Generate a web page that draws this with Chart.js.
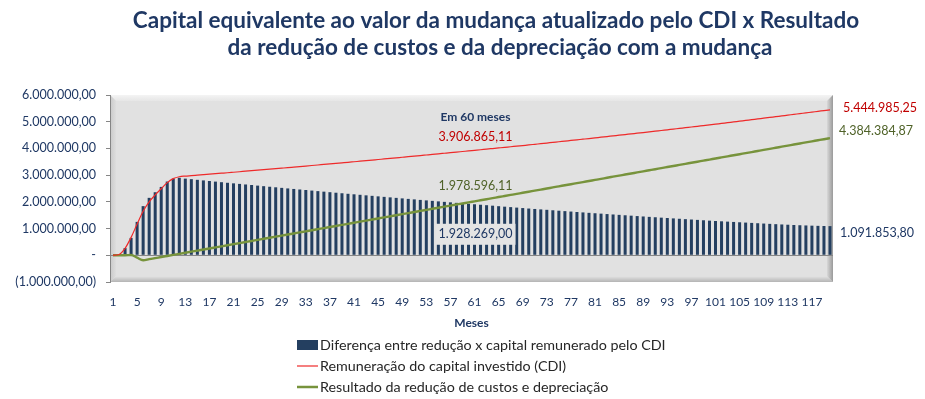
<!DOCTYPE html>
<html lang="pt-BR">
<head>
<meta charset="utf-8">
<title>Capital equivalente x Resultado</title>
<script src="https://cdn.jsdelivr.net/npm/chart.js@4.4.1/dist/chart.umd.min.js"></script>
<style>
  html, body { margin: 0; padding: 0; background: #fff; }
  #wrap { width: 925px; height: 399px; }
</style>
</head>
<body>
<div id="wrap"><canvas id="grafico" width="925" height="399"></canvas></div>
<script>
// Meses (eixo X)
const meses = [
    1, 2, 3, 4, 5, 6, 7, 8, 9, 10, 11, 12, 13, 14, 15, 16, 17, 18, 19, 20,
    21, 22, 23, 24, 25, 26, 27, 28, 29, 30, 31, 32, 33, 34, 35, 36, 37, 38, 39, 40,
    41, 42, 43, 44, 45, 46, 47, 48, 49, 50, 51, 52, 53, 54, 55, 56, 57, 58, 59, 60,
    61, 62, 63, 64, 65, 66, 67, 68, 69, 70, 71, 72, 73, 74, 75, 76, 77, 78, 79, 80,
    81, 82, 83, 84, 85, 86, 87, 88, 89, 90, 91, 92, 93, 94, 95, 96, 97, 98, 99, 100,
    101, 102, 103, 104, 105, 106, 107, 108, 109, 110, 111, 112, 113, 114, 115, 116, 117, 118, 119, 120
];

// Diferença entre redução x capital remunerado pelo CDI (barras)
const diferenca = [
    0, 30000, 270000, 650000, 1250000, 1840000, 2150000, 2360000, 2560000, 2760000,
    2870000, 2900000, 2870000, 2850000, 2825000, 2803000, 2780000, 2758000, 2736000, 2714000,
    2693000, 2672000, 2651000, 2630000, 2608000, 2587000, 2566000, 2545000, 2524000, 2503000,
    2483000, 2463000, 2443000, 2422000, 2402000, 2382000, 2362000, 2342000, 2322000, 2302000,
    2283000, 2264000, 2244000, 2225000, 2206000, 2187000, 2168000, 2149000, 2130000, 2111000,
    2093000, 2073000, 2055000, 2037000, 2018000, 2000000, 1982000, 1963000, 1945000, 1928269,
    1910000, 1892000, 1875000, 1857000, 1838000, 1820000, 1803000, 1785000, 1768000, 1750000,
    1734000, 1718000, 1702000, 1685000, 1669000, 1653000, 1637000, 1621000, 1605000, 1589000,
    1574000, 1559000, 1543000, 1528000, 1513000, 1498000, 1483000, 1468000, 1453000, 1438000,
    1424000, 1409000, 1395000, 1381000, 1367000, 1353000, 1339000, 1325000, 1311000, 1297000,
    1284000, 1272000, 1260000, 1248000, 1236000, 1224000, 1212000, 1200000, 1188000, 1176000,
    1165000, 1154000, 1144000, 1134000, 1125000, 1117000, 1109000, 1102000, 1096000, 1091854
];

// Remuneração do capital investido (CDI)
const remuneracaoCDI = [
    0, 30000, 260000, 670000, 1170000, 1650000, 2000000, 2260000, 2490000, 2720000,
    2870000, 2940000, 2965000, 2982000, 3000000, 3018000, 3036000, 3054000, 3072000, 3090000,
    3109000, 3128000, 3147000, 3166000, 3185000, 3204000, 3223000, 3242000, 3261000, 3280000,
    3300000, 3320000, 3340000, 3360000, 3380000, 3400000, 3420000, 3440000, 3460000, 3480000,
    3501000, 3522000, 3543000, 3564000, 3585000, 3606000, 3627000, 3648000, 3669000, 3690000,
    3712000, 3733000, 3755000, 3777000, 3798000, 3820000, 3842000, 3863000, 3885000, 3906865,
    3929000, 3951000, 3974000, 3996000, 4018000, 4040000, 4063000, 4085000, 4108000, 4130000,
    4154000, 4178000, 4202000, 4226000, 4250000, 4274000, 4298000, 4322000, 4346000, 4370000,
    4395000, 4420000, 4445000, 4470000, 4495000, 4520000, 4545000, 4570000, 4595000, 4620000,
    4646000, 4672000, 4698000, 4724000, 4750000, 4776000, 4802000, 4828000, 4854000, 4880000,
    4908000, 4936000, 4964000, 4992000, 5020000, 5048000, 5076000, 5104000, 5132000, 5160000,
    5189000, 5217000, 5246000, 5274000, 5303000, 5331000, 5360000, 5388000, 5417000, 5444985
];

// Resultado da redução de custos e depreciação
const resultadoReducao = [
    0, 0, 0, 10000, -90000, -186000, -146000, -106000, -65000, -25000,
    15000, 55000, 95000, 135000, 175000, 215000, 256000, 296000, 336000, 376000,
    416000, 456000, 496000, 536000, 577000, 617000, 657000, 697000, 737000, 777000,
    817000, 857000, 897000, 938000, 978000, 1018000, 1058000, 1098000, 1138000, 1178000,
    1218000, 1258000, 1299000, 1339000, 1379000, 1419000, 1459000, 1499000, 1539000, 1579000,
    1619000, 1660000, 1700000, 1740000, 1780000, 1820000, 1860000, 1900000, 1940000, 1978596,
    2019000, 2059000, 2099000, 2139000, 2180000, 2220000, 2260000, 2300000, 2340000, 2380000,
    2420000, 2460000, 2500000, 2541000, 2581000, 2621000, 2661000, 2701000, 2741000, 2781000,
    2821000, 2861000, 2902000, 2942000, 2982000, 3022000, 3062000, 3102000, 3142000, 3182000,
    3222000, 3263000, 3303000, 3343000, 3383000, 3423000, 3463000, 3503000, 3543000, 3583000,
    3624000, 3664000, 3704000, 3744000, 3784000, 3824000, 3864000, 3904000, 3944000, 3985000,
    4025000, 4065000, 4105000, 4145000, 4185000, 4225000, 4265000, 4305000, 4345000, 4384385
];

// Rótulos de dados como aparecem no gráfico
const rotulo60 = ['Em 60 meses', '3.906.865,11', '1.978.596,11', '1.928.269,00'];
const rotuloFinal = ['5.444.985,25', '4.384.384,87', '1.091.853,80'];

const titulo = [
    'Capital equivalente ao valor da mudança atualizado pelo CDI x Resultado',
    'da redução de custos e da depreciação com a mudança'
];

const legendas = [
    'Diferença entre redução x capital remunerado pelo CDI',
    'Remuneração do capital investido (CDI)',
    'Resultado da redução de custos e depreciação'
];

const CORES = {
    barra: '#243F60',
    cdi: '#EE2A2A',
    reducao: '#77933C',
    azul: '#1F3864',
    vermelho: '#C00000',
    oliva: '#4F6228',
    eixo: '#868686'
};

const FONTE = "Lato, 'Open Sans', sans-serif";

/**
 * Formata número no padrão contábil brasileiro
 */
function formatarBR(v) {
    if (v === 0) return '-';
    const abs = Math.abs(v).toFixed(2);
    const [inteiro, dec] = abs.split('.');
    const comPontos = inteiro.replace(/\B(?=(\d{3})+(?!\d))/g, '.');
    const texto = comPontos + ',' + dec;
    return v < 0 ? '(' + texto + ')' : texto;
}

function poligono(ctx, pts, cor) {
    ctx.beginPath();
    ctx.moveTo(pts[0][0], pts[0][1]);
    for (let i = 1; i < pts.length; i++) ctx.lineTo(pts[i][0], pts[i][1]);
    ctx.closePath();
    ctx.fillStyle = cor;
    ctx.fill();
}

// fundo da área de plotagem com chanfro (estilo Excel)
const fundoPlot = {
    id: 'fundoPlot',
    beforeDraw(chart) {
        const { ctx, chartArea: a } = chart;
        const b = 6;
        ctx.save();
        ctx.fillStyle = '#E1E1E1';
        ctx.fillRect(a.left, a.top, a.width, a.height);

        let g = ctx.createLinearGradient(0, a.top, 0, a.top + b);
        g.addColorStop(0, '#F4F4F4');
        g.addColorStop(1, '#E6E6E6');
        poligono(ctx, [[a.left, a.top], [a.right, a.top], [a.right - b, a.top + b], [a.left + b, a.top + b]], g);

        g = ctx.createLinearGradient(a.left, 0, a.left + b, 0);
        g.addColorStop(0, '#C9C9C9');
        g.addColorStop(1, '#DEDEDE');
        poligono(ctx, [[a.left, a.top], [a.left + b, a.top + b], [a.left + b, a.bottom - b], [a.left, a.bottom]], g);

        g = ctx.createLinearGradient(0, a.bottom - b, 0, a.bottom);
        g.addColorStop(0, '#E4E4E4');
        g.addColorStop(1, '#B4B4B4');
        poligono(ctx, [[a.left, a.bottom], [a.left + b, a.bottom - b], [a.right - b, a.bottom - b], [a.right, a.bottom]], g);

        g = ctx.createLinearGradient(a.right - b, 0, a.right, 0);
        g.addColorStop(0, '#D8D8D8');
        g.addColorStop(1, '#9A9A9A');
        poligono(ctx, [[a.right, a.top], [a.right, a.bottom], [a.right - b, a.bottom - b], [a.right - b, a.top + b]], g);
        ctx.restore();
    }
};

// título, rótulos de dados e legenda
const textos = {
    id: 'textos',
    afterDatasetsDraw(chart) {
        const { ctx, scales: { x, y }, chartArea } = chart;
        const i60 = 59;
        const iFim = meses.length - 1;
        const x60 = x.getPixelForValue(i60) + 7;

        ctx.save();
        ctx.textAlign = 'center';
        ctx.textBaseline = 'middle';

        // caixa do rótulo da barra
        const yBarra = y.getPixelForValue(diferenca[i60]) + 30;
        ctx.fillStyle = '#E4E4E4';
        ctx.fillRect(x60 - 40, yBarra - 10, 80, 21);

        ctx.font = 'bold 12px ' + FONTE;
        ctx.fillStyle = CORES.azul;
        ctx.fillText(rotulo60[0], x60, y.getPixelForValue(remuneracaoCDI[i60]) - 34);

        ctx.font = '12.5px ' + FONTE;
        ctx.fillStyle = CORES.vermelho;
        ctx.fillText(rotulo60[1], x60, y.getPixelForValue(remuneracaoCDI[i60]) - 14);
        ctx.fillStyle = CORES.oliva;
        ctx.fillText(rotulo60[2], x60, y.getPixelForValue(resultadoReducao[i60]) - 16);
        ctx.fillStyle = CORES.azul;
        ctx.fillText(rotulo60[3], x60, yBarra);

        // rótulos do último mês, fora da área
        ctx.textAlign = 'left';
        const xFim = chartArea.right + 8;
        ctx.fillStyle = CORES.vermelho;
        ctx.fillText(rotuloFinal[0], xFim + 2, y.getPixelForValue(remuneracaoCDI[iFim]) - 2);
        ctx.fillStyle = CORES.oliva;
        ctx.fillText(rotuloFinal[1], xFim - 2, y.getPixelForValue(resultadoReducao[iFim]) - 7);
        ctx.fillStyle = CORES.azul;
        ctx.fillText(rotuloFinal[2], xFim - 1, y.getPixelForValue(diferenca[iFim]) + 7);
        ctx.restore();
    },
    afterDraw(chart) {
        const { ctx } = chart;
        ctx.save();
        // título
        ctx.textAlign = 'center';
        ctx.textBaseline = 'middle';
        ctx.fillStyle = CORES.azul;
        ctx.font = 'bold 22.5px ' + FONTE;
        ctx.fillText(titulo[0], 496, 21);
        ctx.fillText(titulo[1], 500, 48);

        // legenda vertical
        const lx = 297;
        const ly = [345, 366, 387];
        ctx.fillStyle = CORES.barra;
        ctx.fillRect(lx, ly[0] - 5, 21, 10);
        ctx.strokeStyle = CORES.cdi;
        ctx.lineWidth = 1.2;
        ctx.beginPath();
        ctx.moveTo(lx, ly[1]);
        ctx.lineTo(lx + 21, ly[1]);
        ctx.stroke();
        ctx.strokeStyle = CORES.reducao;
        ctx.lineWidth = 2.5;
        ctx.beginPath();
        ctx.moveTo(lx, ly[2]);
        ctx.lineTo(lx + 21, ly[2]);
        ctx.stroke();

        ctx.textAlign = 'left';
        ctx.fillStyle = '#262626';
        ctx.font = '14.3px ' + FONTE;
        legendas.forEach((t, i) => ctx.fillText(t, lx + 23, ly[i]));
        ctx.restore();
    }
};

const ctx = document.getElementById('grafico').getContext('2d');

const chart = new Chart(ctx, {
    type: 'bar',
    data: {
        labels: meses,
        datasets: [
            {
                type: 'bar',
                label: legendas[0],
                data: diferenca,
                backgroundColor: CORES.barra,
                barPercentage: 0.5,
                categoryPercentage: 1.0,
                order: 3
            },
            {
                type: 'line',
                label: legendas[1],
                data: remuneracaoCDI,
                borderColor: CORES.cdi,
                borderWidth: 1.2,
                pointRadius: 0,
                cubicInterpolationMode: 'monotone',
                order: 1
            },
            {
                type: 'line',
                label: legendas[2],
                data: resultadoReducao,
                borderColor: CORES.reducao,
                borderWidth: 2.4,
                pointRadius: 0,
                cubicInterpolationMode: 'monotone',
                order: 2
            }
        ]
    },
    options: {
        responsive: false,
        animation: false,
        layout: {
            padding: { top: 95, right: 92, bottom: 69, left: 0 }
        },
        plugins: {
            legend: { display: false },
            title: { display: false },
            tooltip: { enabled: false }
        },
        scales: {
            x: {
                grid: { display: false },
                border: { display: false },
                ticks: {
                    autoSkip: false,
                    maxRotation: 0,
                    minRotation: 0,
                    padding: 5,
                    color: CORES.azul,
                    font: { family: FONTE, size: 12 },
                    callback: function(val, i) {
                        return i % 4 === 0 ? meses[i] : '';
                    }
                },
                title: {
                    display: true,
                    text: 'Meses',
                    color: CORES.azul,
                    font: { family: FONTE, size: 12, weight: 'bold' },
                    padding: { top: 0, bottom: 0 }
                },
                afterFit: function(scale) { scale.height = 48; }
            },
            y: {
                min: -1000000,
                max: 6000000,
                ticks: {
                    stepSize: 1000000,
                    padding: 10,
                    color: CORES.azul,
                    font: { family: FONTE, size: 12.5 },
                    callback: function(v) { return formatarBR(v); }
                },
                grid: {
                    color: function(c) { return c.tick && c.tick.value === 0 ? CORES.eixo : 'rgba(0,0,0,0)'; },
                    tickColor: CORES.eixo,
                    tickLength: 4
                },
                border: { display: true, color: CORES.eixo },
                afterFit: function(scale) { scale.width = 110; }
            }
        }
    },
    plugins: [fundoPlot, textos]
});
</script>
</body>
</html>
